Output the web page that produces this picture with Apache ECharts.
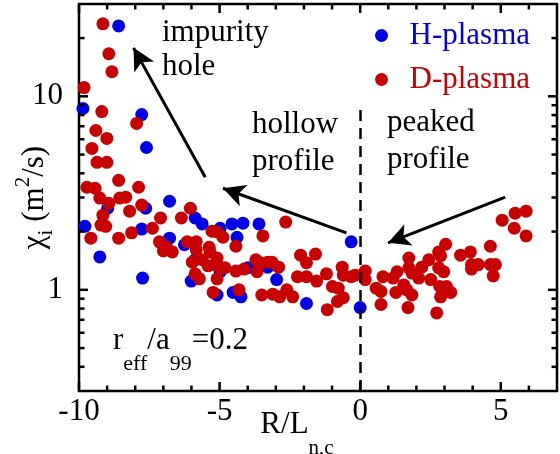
<!DOCTYPE html>
<html><head><meta charset="utf-8">
<script src="https://cdn.jsdelivr.net/npm/echarts@6/dist/echarts.min.js"></script>
<style>html,body{margin:0;padding:0;background:#fff}#c{width:560px;height:454px}</style>
</head><body><div id="c"></div><script>
// H-plasma
const hX = [-8.59,-9.86,-7.77,-7.60,-9.79,-8.98,-6.78,-7.63,-7.77,-6.78,-5.87,-5.62,-6.25,-9.26,-7.74,-6.01,-4.98,-4.38,-4.56,-4.17,-3.60,-5.09,-4.52,-4.24,-2.97,-1.91,-3.29,-3.99,-0.32,0.00,-4.98,-5.87];
const hY = [23.1,8.65,8.05,5.44,2.13,2.64,2.87,2.64,2.06,1.85,2.35,2.19,1.71,1.48,1.15,1.11,2.08,1.87,2.19,2.21,2.19,0.94,0.97,0.92,1.13,0.85,1.31,1.30,1.77,0.81,1.24,1.43];
// D-plasma
const dX = [-9.15,-8.94,-8.83,-9.82,-9.19,-7.95,-9.40,-9.01,-9.54,-9.36,-9.01,-8.59,-9.72,-9.43,-7.88,-9.26,-8.94,-8.55,-8.34,-7.77,-8.20,-9.15,-9.22,-9.05,-7.10,-7.39,-8.13,-8.59,-9.58,-6.04,-6.36,-7.14,-6.89,-7.00,-6.68,-6.15,-5.83,-5.83,-5.37,-5.27,-5.09,-4.88,-4.42,-3.46,-2.65,-5.97,-5.62,-5.41,-5.16,-4.98,-4.81,-5.87,-5.72,-5.09,-4.42,-4.13,-3.71,-3.57,-3.67,-3.29,-3.14,-2.90,-4.31,-5.23,-3.50,-3.11,-2.86,-2.61,-2.40,-2.12,-1.91,-1.59,-2.23,-1.91,-1.55,-1.20,-0.64,-0.60,-0.32,-0.18,-0.99,-0.78,-0.60,-0.81,-1.17,0.18,0.18,0.57,0.74,0.74,0.81,1.17,1.31,1.27,1.73,1.73,1.84,1.55,1.66,1.84,1.70,2.08,2.19,2.44,2.51,2.79,2.86,3.04,2.79,2.97,2.83,3.07,3.22,2.86,2.72,3.57,3.92,3.96,3.96,4.20,4.63,4.63,4.81,4.73,5.05,5.51,5.90,5.48,5.90,-5.09,-5.34];
const dY = [23.7,16.6,13.4,11.1,8.34,7.24,6.66,6.06,5.38,4.56,4.56,3.68,3.39,3.35,3.39,2.98,2.80,2.98,3.01,2.74,2.55,2.43,2.16,2.13,2.35,2.08,1.97,1.85,1.85,2.64,2.35,1.77,1.66,1.59,1.57,1.77,1.77,1.61,1.66,2.01,1.99,1.87,1.68,1.90,2.24,1.39,1.43,1.33,1.35,1.31,1.30,1.21,1.14,1.14,1.25,1.28,1.43,1.38,1.24,1.39,1.39,1.31,1.00,0.97,0.94,0.95,0.92,1.00,0.92,1.51,1.38,1.53,1.17,1.17,1.11,1.21,1.31,1.19,1.17,1.19,1.04,1.02,0.91,0.87,0.79,1.25,1.13,1.02,0.98,0.84,1.17,1.15,1.24,0.97,1.46,1.30,1.22,1.06,1.00,0.94,0.81,1.15,1.31,1.43,1.13,1.57,1.50,1.72,1.30,1.24,1.04,1.04,0.97,0.92,0.76,1.51,1.57,1.35,1.28,1.35,1.68,1.35,1.35,1.18,2.29,2.49,2.55,2.08,1.90,1.46,1.57];

const xLabelTicks = [-10, -5, 0, 5];
const xMinorTicks = [-9,-8,-7,-6,-4,-3,-2,-1,1,2,3,4,6];
const yLabelTicks = [1, 10];
const yMinorTicks = [0.4,0.5,0.6,0.7,0.8,0.9,2,3,4,5,6,7,8,9,20];

// annotation arrows: [from, tip] in data coords
const arrowImpurity = [[-5.51, 3.82], [-8.06, 17.8]];
const arrowHollow = [[-0.49, 1.97], [-4.88, 3.35]];
const arrowPeaked = [[5.16, 3.01], [0.99, 1.75]];
const dividerX = 0, dividerTop = 9.17;

const FONT = '"Liberation Serif", "Times New Roman", serif';
const BLUE = '#0000e6', RED = '#c80000';

const zip = (a, b) => a.map((v, i) => [v, b[i]]);
const MAJ = 9, MIN = 5.5;
const xTickData = xLabelTicks.map(v => [v, 1, MAJ]).concat(xMinorTicks.map(v => [v, 1, MIN]));
const yTickData = yLabelTicks.map(v => [0, v, MAJ]).concat(yMinorTicks.map(v => [0, v, MIN]));
const tickLine = (x1, y1, x2, y2) => ({type: 'line', shape: {x1, y1, x2, y2}, style: {stroke: '#000', lineWidth: 2.5}});

const arrowLine = (a) => [{coord: a[0], symbol: 'none'}, {coord: a[1], symbol: 'arrow'}];

const chart = echarts.init(document.getElementById('c'), null, {renderer: 'canvas'});
chart.setOption({
  animation: false,
  backgroundColor: '#fff',
  grid: {left: 79, right: 3, top: 4, bottom: 63, containLabel: false, outerBoundsMode: 'none',
    show: true, borderColor: '#000', borderWidth: 2.5, backgroundColor: 'transparent'},
  xAxis: {
    type: 'value', min: -10, max: 7, interval: 5,
    axisLine: {show: false}, axisTick: {show: false}, splitLine: {show: false},
    axisLabel: {color: '#000', fontFamily: FONT, fontSize: 31, margin: 5,
      formatter: v => (xLabelTicks.indexOf(v) >= 0 ? String(v) : '')},
    name: '{t|R/L}{s|n,c}', nameLocation: 'middle', nameGap: 18, nameMoveOverlap: false,
    nameTextStyle: {padding: [0, 42, 0, 0], rich: {
      t: {fontFamily: FONT, fontSize: 31, lineHeight: 31, verticalAlign: 'top', color: '#000'},
      s: {fontFamily: FONT, fontSize: 21, lineHeight: 78, verticalAlign: 'middle', color: '#000'}}}
  },
  yAxis: {
    type: 'log', logBase: 10, min: 0.3, max: 30,
    axisLine: {show: false}, axisTick: {show: false}, splitLine: {show: false}, minorTick: {show: false},
    axisLabel: {color: '#000', fontFamily: FONT, fontSize: 31, margin: 16,
      formatter: v => { for (const t of yLabelTicks) { if (Math.abs(v - t) < 1e-6 * t) return String(t); } return ''; }},
    name: '{t|χ}{s|i}{t| (m}{p|2}{t|/s)}', nameLocation: 'middle', nameGap: 22, nameMoveOverlap: false,
    nameTextStyle: {padding: [0, 0, 0, 0], rich: {
      t: {fontFamily: FONT, fontSize: 31, lineHeight: 44, color: '#000'},
      s: {fontFamily: FONT, fontSize: 21, lineHeight: 21, verticalAlign: 'bottom', color: '#000'},
      p: {fontFamily: FONT, fontSize: 21, lineHeight: 21, verticalAlign: 'top', color: '#000'}}}
  },
  legend: {
    orient: 'vertical', left: 370, top: 15, itemWidth: 46, itemHeight: 13, itemGap: 13,
    icon: 'circle',
    textStyle: {fontFamily: FONT, fontSize: 31, lineHeight: 31},
    data: [{name: 'H-plasma', textStyle: {color: BLUE}}, {name: 'D-plasma', textStyle: {color: RED}}]
  },
  series: [
    {name: 'H-plasma', type: 'scatter', data: zip(hX, hY), symbol: 'circle', symbolSize: 13, itemStyle: {color: BLUE, opacity: 1}, z: 3},
    {name: 'D-plasma', type: 'scatter', data: zip(dX, dY), symbol: 'circle', symbolSize: 13, itemStyle: {color: RED, opacity: 1}, z: 4},
    {name: 'annot', type: 'scatter', data: [], z: 6,
      markLine: {silent: true, animation: false, symbolSize: [17, 22], label: {show: false},
        lineStyle: {color: '#000', width: 3, type: 'solid'},
        data: [arrowLine(arrowImpurity), arrowLine(arrowHollow), arrowLine(arrowPeaked),
          [{coord: [dividerX, 0.3], symbol: 'none', lineStyle: {type: [11, 7], width: 2.5}}, {coord: [dividerX, dividerTop], symbol: 'none'}]]}},
    {name: 'xticks', type: 'custom', data: xTickData, clip: false, silent: true, z: 10,
      renderItem: (params, api) => {
        const cs = params.coordSys; const px = api.coord([api.value(0), 1])[0]; const len = api.value(2);
        return {type: 'group', children: [tickLine(px, cs.y + cs.height, px, cs.y + cs.height - len), tickLine(px, cs.y, px, cs.y + len)]};
      }},
    {name: 'yticks', type: 'custom', data: yTickData, clip: false, silent: true, z: 10,
      renderItem: (params, api) => {
        const cs = params.coordSys; const py = api.coord([0, api.value(1)])[1]; const len = api.value(2);
        return {type: 'group', children: [tickLine(cs.x, py, cs.x + len, py), tickLine(cs.x + cs.width, py, cs.x + cs.width - len, py)]};
      }}
  ],
  graphic: [
    {type: 'text', left: 162, top: 16, style: {text: 'impurity\nhole', font: '31px ' + FONT, lineHeight: 34, fill: '#000'}},
    {type: 'text', left: 252, top: 106, style: {text: 'hollow\nprofile', font: '31px ' + FONT, lineHeight: 37, fill: '#000'}},
    {type: 'text', left: 387, top: 104, style: {text: 'peaked\nprofile', font: '31px ' + FONT, lineHeight: 37, fill: '#000'}},
    {type: 'text', left: 113, top: 325, style: {text: '{t|r}{s|eff}{t|/a}{s|99}{t|=0.2}', fill: '#000',
      rich: {t: {fontFamily: FONT, fontSize: 31, lineHeight: 31, verticalAlign: 'top'},
             s: {fontFamily: FONT, fontSize: 22, lineHeight: 78, verticalAlign: 'middle'}}}}
  ]
});
</script></body></html>
